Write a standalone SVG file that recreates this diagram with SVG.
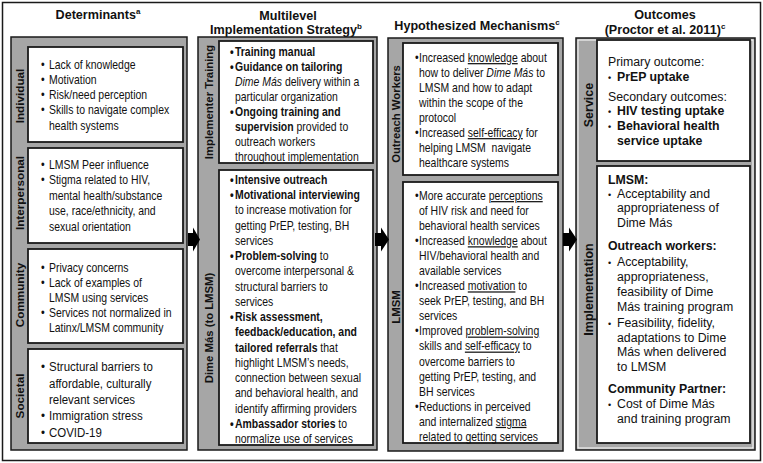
<svg xmlns="http://www.w3.org/2000/svg" width="763" height="463" viewBox="0 0 763 463">
<style>
.frame{fill:#fff;stroke:#1a1a1a;stroke-width:1.5}
.panel{fill:#a6a6a6;stroke:#1a1a1a;stroke-width:1.5}
.box{fill:#fff;stroke:#1a1a1a;stroke-width:1.8}
.t{font-family:"Liberation Sans",Arial,sans-serif;font-size:12.3px;fill:#111}
.s{font-size:13.5px}
.o{font-family:"Liberation Sans",Arial,sans-serif;font-size:12.3px;fill:#111}
.b{font-weight:bold}
.i{font-style:italic}
.u{text-decoration:underline}
.hdr{font-family:"Liberation Sans",Arial,sans-serif;font-size:12.6px;font-weight:bold;text-anchor:middle;fill:#111}
.sup{font-size:8px}
.lbl{font-family:"Liberation Sans",Arial,sans-serif;font-weight:bold;text-anchor:middle;fill:#111}
.arrow{fill:#000}
</style>
<rect class="frame" x="2.5" y="2.5" width="758" height="458"/>

<g id="determinants">
<text class="hdr" x="98" y="19">Determinants<tspan class="sup" dy="-5">a</tspan></text>
<rect class="panel" x="11" y="37" width="176" height="413"/>
<g id="det-individual">
<rect class="box" x="28" y="47" width="155" height="95"/>
<text class="lbl" font-size="11.7" transform="translate(23.7 96) rotate(-90)">Individual</text>
<g transform="translate(49 0) scale(0.85 1)">
<text class="t" x="-9.4" y="69">•</text><text class="t" x="0" y="69">Lack of knowledge</text>
<text class="t" x="-9.4" y="84">•</text><text class="t" x="0" y="84">Motivation</text>
<text class="t" x="-9.4" y="99.5">•</text><text class="t" x="0" y="99.5">Risk/need perception</text>
<text class="t" x="-9.4" y="114.5">•</text><text class="t" x="0" y="114.5">Skills to navigate complex</text>
<text class="t" x="0" y="130">health systems</text>
</g>
</g>
<g id="det-interpersonal">
<rect class="box" x="28" y="148" width="155" height="95"/>
<text class="lbl" font-size="11.7" transform="translate(23.7 193) rotate(-90)">Interpersonal</text>
<g transform="translate(49 0) scale(0.85 1)">
<text class="t" x="-9.4" y="169">•</text><text class="t" x="0" y="169">LMSM Peer influence</text>
<text class="t" x="-9.4" y="184">•</text><text class="t" x="0" y="184">Stigma related to HIV,</text>
<text class="t" x="0" y="200">mental health/substance</text>
<text class="t" x="0" y="215">use, race/ethnicity, and</text>
<text class="t" x="0" y="231">sexual orientation</text>
</g>
</g>
<g id="det-community">
<rect class="box" x="28" y="249" width="155" height="94"/>
<text class="lbl" font-size="11.7" transform="translate(23.7 295) rotate(-90)">Community</text>
<g transform="translate(49 0) scale(0.85 1)">
<text class="t" x="-9.4" y="272">•</text><text class="t" x="0" y="272">Privacy concerns</text>
<text class="t" x="-9.4" y="287">•</text><text class="t" x="0" y="287">Lack of examples of</text>
<text class="t" x="0" y="302">LMSM using services</text>
<text class="t" x="-9.4" y="317">•</text><text class="t" x="0" y="317">Services not normalized in</text>
<text class="t" x="0" y="332">Latinx/LMSM community</text>
</g>
</g>
<g id="det-societal">
<rect class="box" x="28" y="349" width="155" height="94"/>
<text class="lbl" font-size="11.7" transform="translate(23.7 396) rotate(-90)">Societal</text>
<g transform="translate(49 0) scale(0.85 1)">
<text class="t s" x="-9.4" y="371">•</text><text class="t s" x="0" y="371">Structural barriers to</text>
<text class="t s" x="0" y="388">affordable, culturally</text>
<text class="t s" x="0" y="404">relevant services</text>
<text class="t s" x="-9.4" y="420">•</text><text class="t s" x="0" y="420">Immigration stress</text>
<text class="t s" x="-9.4" y="437">•</text><text class="t s" x="0" y="437">COVID-19</text>
</g>
</g>
</g>

<g id="strategy">
<text class="hdr" x="288" y="20">Multilevel</text>
<text class="hdr" x="286" y="34">Implementation Strategy<tspan class="sup" dy="-5">b</tspan></text>
<rect class="panel" x="198" y="37" width="179" height="413"/>
<g id="str-training">
<rect class="box" x="219" y="41" width="154" height="122"/>
<text class="lbl" font-size="11.3" transform="translate(212.5 102) rotate(-90)">Implementer Training</text>
<g transform="translate(235 0) scale(0.85 1)">
<text class="t b" x="-5.9" y="56">•</text><text class="t b" x="0" y="56">Training manual</text>
<text class="t b" x="-5.9" y="71">•</text><text class="t b" x="0" y="71">Guidance on tailoring</text>
<text class="t" x="0" y="86"><tspan class="i">Dime Más</tspan> delivery within a</text>
<text class="t" x="0" y="101">particular organization</text>
<text class="t b" x="-5.9" y="116">•</text><text class="t b" x="0" y="116">Ongoing training and</text>
<text class="t" x="0" y="131"><tspan class="b">supervision</tspan> provided to</text>
<text class="t" x="0" y="146">outreach workers</text>
<text class="t" x="0" y="161">throughout implementation</text>
</g>
</g>
<g id="str-dimemas">
<rect class="box" x="219" y="170" width="154" height="275"/>
<text class="lbl" font-size="11.3" transform="translate(212.5 328) rotate(-90)">Dime Más (to LMSM)</text>
<g transform="translate(235 0) scale(0.85 1)">
<text class="t b" x="-5.9" y="184">•</text><text class="t b" x="0" y="184">Intensive outreach</text>
<text class="t b" x="-5.9" y="199.2">•</text><text class="t b" x="0" y="199.2">Motivational interviewing</text>
<text class="t" x="0" y="214.5">to increase motivation for</text>
<text class="t" x="0" y="229.7">getting PrEP, testing, BH</text>
<text class="t" x="0" y="245">services</text>
<text class="t b" x="-5.9" y="260.2">•</text><text class="t" x="0" y="260.2"><tspan class="b">Problem-solving</tspan> to</text>
<text class="t" x="0" y="275.4">overcome interpersonal &amp;</text>
<text class="t" x="0" y="290.7">structural barriers to</text>
<text class="t" x="0" y="305.9">services</text>
<text class="t b" x="-5.9" y="321.2">•</text><text class="t b" x="0" y="321.2">Risk assessment,</text>
<text class="t b" x="0" y="336.4">feedback/education, and</text>
<text class="t" x="0" y="351.6"><tspan class="b">tailored referrals</tspan> that</text>
<text class="t" x="0" y="366.9">highlight LMSM’s needs,</text>
<text class="t" x="0" y="382.1">connection between sexual</text>
<text class="t" x="0" y="397.4">and behavioral health, and</text>
<text class="t" x="0" y="412.6">identify affirming providers</text>
<text class="t b" x="-5.9" y="427.8">•</text><text class="t" x="0" y="427.8"><tspan class="b">Ambassador stories</tspan> to</text>
<text class="t" x="0" y="443">normalize use of services</text>
</g>
</g>
</g>

<g id="mechanisms">
<text class="hdr" x="477" y="29.5">Hypothesized Mechanisms<tspan class="sup" dy="-5">c</tspan></text>
<rect class="panel" x="388" y="38" width="175" height="413"/>
<g id="mech-outreach">
<rect class="box" x="403" y="43" width="155" height="132"/>
<text class="lbl" font-size="11.3" transform="translate(400 114) rotate(-90)">Outreach Workers</text>
<g transform="translate(419 0) scale(0.85 1)">
<text class="t" x="-4.7" y="62">•</text><text class="t" x="0" y="62">Increased <tspan class="u">knowledge</tspan> about</text>
<text class="t" x="0" y="77">how to deliver <tspan class="i">Dime Más</tspan> to</text>
<text class="t" x="0" y="92">LMSM and how to adapt</text>
<text class="t" x="0" y="107">within the scope of the</text>
<text class="t" x="0" y="122">protocol</text>
<text class="t" x="-4.7" y="137">•</text><text class="t" x="0" y="137">Increased <tspan class="u">self-efficacy</tspan> for</text>
<text class="t" x="0" y="152">helping LMSM &#160;navigate</text>
<text class="t" x="0" y="167">healthcare systems</text>
</g>
</g>
<g id="mech-lmsm">
<rect class="box" x="403" y="182" width="155" height="261"/>
<text class="lbl" font-size="11.3" transform="translate(400 307) rotate(-90)">LMSM</text>
<g transform="translate(419 0) scale(0.85 1)">
<text class="t" x="-4.7" y="200">•</text><text class="t" x="0" y="200">More accurate <tspan class="u">perceptions</tspan></text>
<text class="t" x="0" y="215">of HIV risk and need for</text>
<text class="t" x="0" y="230.1">behavioral health services</text>
<text class="t" x="-4.7" y="245.2">•</text><text class="t" x="0" y="245.2">Increased <tspan class="u">knowledge</tspan> about</text>
<text class="t" x="0" y="260.2">HIV/behavioral health and</text>
<text class="t" x="0" y="275.3">available services</text>
<text class="t" x="-4.7" y="290.3">•</text><text class="t" x="0" y="290.3">Increased <tspan class="u">motivation</tspan> to</text>
<text class="t" x="0" y="305.4">seek PrEP, testing, and BH</text>
<text class="t" x="0" y="320.4">services</text>
<text class="t" x="-4.7" y="335.5">•</text><text class="t" x="0" y="335.5">Improved <tspan class="u">problem-solving</tspan></text>
<text class="t" x="0" y="350.5">skills and <tspan class="u">self-efficacy</tspan> to</text>
<text class="t" x="0" y="365.6">overcome barriers to</text>
<text class="t" x="0" y="380.6">getting PrEP, testing, and</text>
<text class="t" x="0" y="395.7">BH services</text>
<text class="t" x="-4.7" y="410.7">•</text><text class="t" x="0" y="410.7">Reductions in perceived</text>
<text class="t" x="0" y="425.8">and internalized <tspan class="u">stigma</tspan></text>
<text class="t" x="0" y="440.8">related to getting services</text>
</g>
</g>
</g>

<g id="outcomes">
<text class="hdr" x="665" y="18.5">Outcomes</text>
<text class="hdr" x="665" y="33.5">(Proctor et al. 2011)<tspan class="sup" dy="-5">c</tspan></text>
<rect class="panel" x="576" y="38" width="179" height="412"/>
<rect x="578" y="40" width="175" height="408" fill="none" stroke="#fff" stroke-width="1"/>
<g id="out-service">
<rect class="box" x="597" y="40" width="153" height="121"/>
<text class="lbl" font-size="12.5" transform="translate(592.5 105) rotate(-90)">Service</text>
<text class="o" x="608" y="66">Primary outcome:</text>
<text class="o b" x="608" y="81"><tspan font-size="9">•</tspan></text><text class="o b" x="617" y="81">PrEP uptake</text>
<text class="o" x="608" y="101">Secondary outcomes:</text>
<text class="o b" x="608" y="114.5"><tspan font-size="9">•</tspan></text><text class="o b" x="617" y="114.5">HIV testing uptake</text>
<text class="o b" x="608" y="129.5"><tspan font-size="9">•</tspan></text><text class="o b" x="617" y="129.5">Behavioral health</text>
<text class="o b" x="617" y="144.5">service uptake</text>
</g>
<g id="out-implementation">
<rect class="box" x="597" y="166" width="153" height="277"/>
<text class="lbl" font-size="12.5" transform="translate(592.5 289.5) rotate(-90)">Implementation</text>
<text class="o b" x="608" y="184">LMSM:</text>
<text class="o" x="608" y="197.5"><tspan font-size="9">•</tspan></text><text class="o" x="617" y="197.5">Acceptability and</text>
<text class="o" x="617" y="212">appropriateness of</text>
<text class="o" x="617" y="227">Dime Más</text>
<text class="o b" x="608" y="250">Outreach workers:</text>
<text class="o" x="608" y="266"><tspan font-size="9">•</tspan></text><text class="o" x="617" y="266">Acceptability,</text>
<text class="o" x="617" y="281">appropriateness,</text>
<text class="o" x="617" y="296">feasibility of Dime</text>
<text class="o" x="617" y="311">Más training program</text>
<text class="o" x="608" y="327"><tspan font-size="9">•</tspan></text><text class="o" x="617" y="327">Feasibility, fidelity,</text>
<text class="o" x="617" y="341.5">adaptations to Dime</text>
<text class="o" x="617" y="356">Más when delivered</text>
<text class="o" x="617" y="371">to LMSM</text>
<text class="o b" x="608" y="393">Community Partner:</text>
<text class="o" x="608" y="408"><tspan font-size="9">•</tspan></text><text class="o" x="617" y="408">Cost of Dime Más</text>
<text class="o" x="617" y="423">and training program</text>
</g>
</g>

<g id="connectors">
<path class="arrow" d="M188,233 H193 V227.5 L200,239.5 L193,251.5 V246 H188 Z"/>
<path class="arrow" d="M375,233 H381 V227.5 L389,239.5 L381,251.5 V246 H375 Z"/>
<path class="arrow" d="M563,233 H569 V227.5 L577,239.5 L569,251.5 V246 H563 Z"/>
</g>
</svg>
